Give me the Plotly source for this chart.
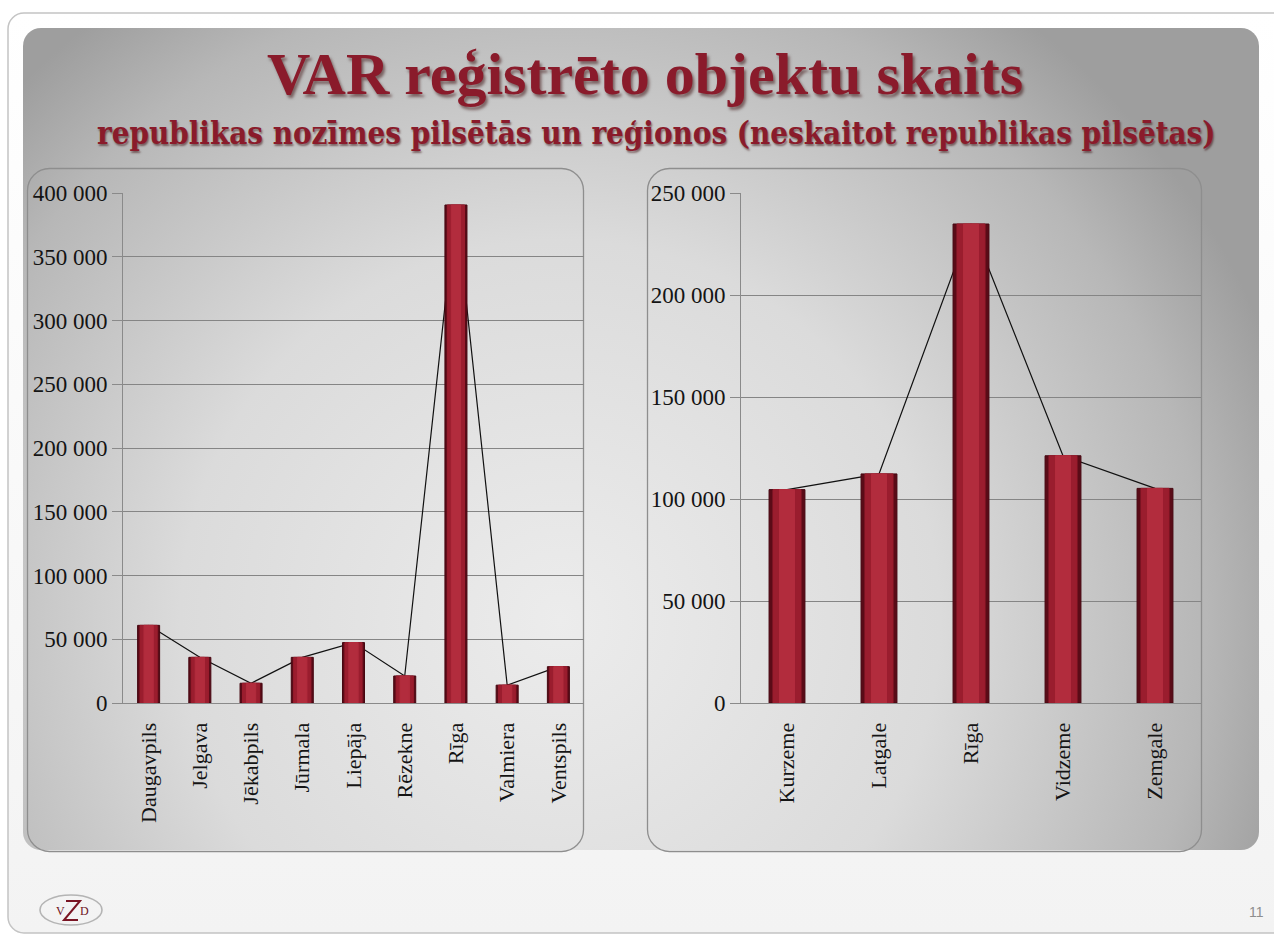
import base64

import plotly.graph_objects as go

W, H = 1274, 935

# left chart: republic cities
cities = ["Daugavpils", "Jelgava", "Jēkabpils", "Jūrmala", "Liepāja",
          "Rēzekne", "Rīga", "Valmiera", "Ventspils"]
city_counts = [60900, 35800, 15500, 35800, 47400, 21200, 390600, 14000, 28500]
city_ticks = [0, 50000, 100000, 150000, 200000, 250000, 300000, 350000, 400000]

# right chart: regions (without republic cities)
regions = ["Kurzeme", "Latgale", "Rīga", "Vidzeme", "Zemgale"]
region_counts = [104600, 112300, 234800, 121200, 105200]
region_ticks = [0, 50000, 100000, 150000, 200000, 250000]

title = "VAR reģistrēto objektu skaits"
subtitle = "republikas nozīmes pilsētās un reģionos (neskaitot republikas pilsētas)"

DARK_RED = "#8a1b2b"
YTICK_FONT = dict(family="Liberation Serif, Times New Roman, serif", size=23, color="#141414")
XTICK_FONT = dict(family="Liberation Serif, Times New Roman, serif", size=22, color="#141414")


def px(x):
    return x / W


def py(y):
    return 1 - y / H


# slide background (gradient panel, rounded chart frames, logo outline)
svg = f"""<svg xmlns="http://www.w3.org/2000/svg" width="{W}" height="{H}" viewBox="0 0 {W} {H}">
<defs>
<radialGradient id="g" gradientUnits="userSpaceOnUse" cx="560" cy="620" r="760">
<stop offset="0" stop-color="#ececec"/>
<stop offset="0.5" stop-color="#dbdbdb"/>
<stop offset="0.85" stop-color="#b7b7b7"/>
<stop offset="1" stop-color="#9e9e9e"/>
</radialGradient>
<linearGradient id="foot" x1="0" y1="0" x2="0" y2="1">
<stop offset="0" stop-color="#ffffff"/><stop offset="1" stop-color="#f3f3f3"/>
</linearGradient>
</defs>
<rect width="{W}" height="{H}" fill="#ffffff"/>
<rect x="8" y="13" width="1290" height="920" rx="16" fill="url(#foot)" stroke="#c4c4c4" stroke-width="1.5"/>
<rect x="23" y="28" width="1236" height="822" rx="18" fill="url(#g)"/>
<rect x="27.5" y="168.5" width="556" height="683" rx="22" fill="none" stroke="#8e8e8e" stroke-width="1.3"/>
<rect x="647.5" y="168.5" width="554" height="683" rx="22" fill="none" stroke="#8e8e8e" stroke-width="1.3"/>
<ellipse cx="71" cy="910" rx="31" ry="15" fill="none" stroke="#b4b4b4" stroke-width="1.6"/>
<path d="M66 901 L80 901 L64 920 L78 920" fill="none" stroke="#7a1524" stroke-width="2"/>
</svg>"""
bg_uri = "data:image/svg+xml;base64," + base64.b64encode(svg.encode("utf-8")).decode("ascii")

fig = go.Figure()

# connecting lines on the base axes (drawn under the bars)
fig.add_trace(go.Scatter(x=cities, y=city_counts, mode="lines",
                         line=dict(color="#111111", width=1.2), xaxis="x", yaxis="y",
                         hoverinfo="skip", showlegend=False))
fig.add_trace(go.Scatter(x=regions, y=region_counts, mode="lines",
                         line=dict(color="#111111", width=1.2), xaxis="x2", yaxis="y2",
                         hoverinfo="skip", showlegend=False))


def add_bars(cats, vals, xa, ya, width):
    # layered bars to mimic the bevelled cylinder look
    layers = [
        (width, "#5a0b17", "#460711"),
        (width * 0.78, "#9a1d2e", "#9a1d2e"),
        (width * 0.42, "#b22c3d", "#b22c3d"),
    ]
    for w, fill, edge in layers:
        fig.add_trace(go.Bar(x=cats, y=vals, width=w, xaxis=xa, yaxis=ya,
                             marker=dict(color=fill, line=dict(color=edge, width=1)),
                             showlegend=False))


add_bars(cities, city_counts, "x3", "y3", 0.43)
add_bars(regions, region_counts, "x4", "y4", 0.39)

ydom = [py(703), py(193)]
left_dom = [px(123), px(584)]
right_dom = [px(741), px(1201)]

axis_common = dict(showline=True, linecolor="#8a8a8a", linewidth=1, mirror=False,
                   zeroline=False, automargin=False)

fig.update_layout(
    width=W, height=H,
    autosize=False,
    margin=dict(l=0, r=0, t=0, b=0, pad=0, autoexpand=False),
    paper_bgcolor="rgba(0,0,0,0)",
    plot_bgcolor="rgba(0,0,0,0)",
    separators=", ",
    barmode="overlay",
    showlegend=False,
    xaxis=dict(domain=left_dom, type="category", range=[-0.5, len(cities) - 0.5],
               tickangle=-90, tickfont=XTICK_FONT, ticks="", ticklabelstandoff=10,
               showgrid=False, **axis_common),
    yaxis=dict(domain=ydom, range=[0, 400000], tickvals=city_ticks, tickformat=",d",
               tickfont=YTICK_FONT, ticks="outside", ticklen=10, tickcolor="#8a8a8a",
               showgrid=True, gridcolor="#858585", gridwidth=1, **axis_common),
    xaxis2=dict(domain=right_dom, type="category", range=[-0.5, len(regions) - 0.5],
                tickangle=-90, tickfont=XTICK_FONT, ticks="", ticklabelstandoff=10,
                showgrid=False, anchor="y2", **axis_common),
    yaxis2=dict(domain=ydom, range=[0, 250000], tickvals=region_ticks, tickformat=",d",
                tickfont=YTICK_FONT, ticks="outside", ticklen=10, tickcolor="#8a8a8a",
                showgrid=True, gridcolor="#858585", gridwidth=1, anchor="x2", **axis_common),
    xaxis3=dict(overlaying="x", type="category", range=[-0.5, len(cities) - 0.5],
                visible=False, automargin=False),
    yaxis3=dict(overlaying="y", range=[0, 400000], visible=False, anchor="x3", automargin=False),
    xaxis4=dict(overlaying="x2", type="category", range=[-0.5, len(regions) - 0.5],
                visible=False, automargin=False),
    yaxis4=dict(overlaying="y2", range=[0, 250000], visible=False, anchor="x4", automargin=False),
    images=[dict(source=bg_uri, xref="paper", yref="paper", x=0, y=1, sizex=1, sizey=1,
                 xanchor="left", yanchor="top", sizing="stretch", layer="below")],
)

fig.add_annotation(
    text=title, xref="paper", yref="paper", x=px(645), y=py(74),
    xanchor="center", yanchor="middle", showarrow=False,
    font=dict(family="Liberation Serif, Times New Roman, serif", size=60, color=DARK_RED,
              weight="bold", shadow="2px 3px 3px rgba(50,0,0,0.5)"),
)
fig.add_annotation(
    text=subtitle, xref="paper", yref="paper", x=px(656), y=py(133),
    xanchor="center", yanchor="middle", showarrow=False,
    font=dict(family="DejaVu Serif Condensed, DejaVu Serif, serif", size=31, color=DARK_RED,
              weight="bold", shadow="1px 2px 2px rgba(50,0,0,0.5)"),
)

# footer: logo letters and page number
footer_font = dict(family="Liberation Serif, serif", size=12, color="#6e1422")
fig.add_annotation(text="V", xref="paper", yref="paper", x=px(60), y=py(911),
                   xanchor="center", yanchor="middle", showarrow=False, font=footer_font)
fig.add_annotation(text="D", xref="paper", yref="paper", x=px(84), y=py(911),
                   xanchor="center", yanchor="middle", showarrow=False, font=footer_font)
fig.add_annotation(text="11", xref="paper", yref="paper", x=px(1256), y=py(912),
                   xanchor="center", yanchor="middle", showarrow=False,
                   font=dict(family="Liberation Sans Narrow, Liberation Sans, sans-serif",
                             size=14, color="#8e8e8e"))

fig.write_html("out.html", config=dict(displayModeBar=False),
               post_script="document.body.style.margin='0';document.body.style.overflow='hidden';")
